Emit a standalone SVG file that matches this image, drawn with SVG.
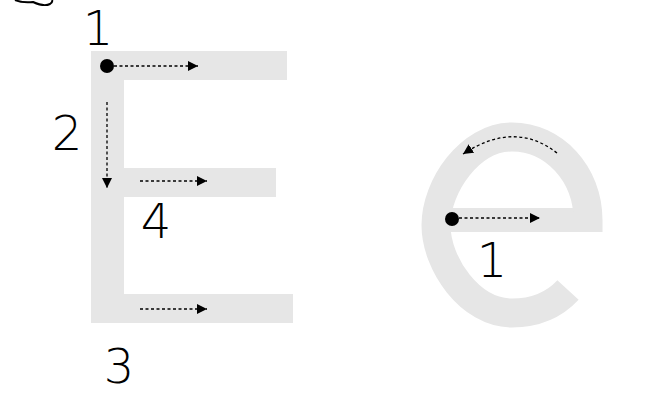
<svg xmlns="http://www.w3.org/2000/svg" width="650" height="410" viewBox="0 0 650 410">
<style>
.shape{fill:#e6e6e6}
.stroke{fill:none;stroke:#e6e6e6}
.num{font-family:"DejaVu Sans","Liberation Sans",sans-serif;font-weight:200;font-size:48px;fill:#000}
.dash{fill:none;stroke:#000;stroke-width:1.3;stroke-dasharray:3 2.5}
.dot{fill:#000}
</style>
<defs>
<marker id="ah" viewBox="0 0 10 10" refX="10" refY="5" markerWidth="10" markerHeight="10" markerUnits="userSpaceOnUse" orient="auto">
<path d="M0,0 L10,5 L0,10 Z" fill="#000"/>
</marker>
</defs>
<path d="M15 0 Q22 3 33 2 Q44 7 50 4 Q53 2 52 0" fill="none" stroke="#000" stroke-width="2"/>
<g id="letterE">
<path class="shape" d="M91 51 H287 V80 H124 V168 H276 V197 H124 V294 H293 V323 H91 Z"/>
</g>
<g id="letterLowerE">
<path class="stroke" d="M437 220 H588" stroke-width="24"/>
<path class="stroke" d="M588 232 V220 C588 174 554 137 512 137 C470 137 436 186 436 225 C436 264 470 313 512 313 C536 313 555 304 568 290" stroke-width="29"/>
</g>
<g id="labels">
<text class="num" x="98" y="45" text-anchor="middle">1</text>
<text class="num" x="67" y="150" text-anchor="middle">2</text>
<text class="num" x="156" y="238" text-anchor="middle">4</text>
<text class="num" x="119" y="383" text-anchor="middle">3</text>
<text class="num" x="492" y="277" text-anchor="middle">1</text>
</g>
<g id="connectors">
<path class="dash" d="M114 66 H198" marker-end="url(#ah)"/>
<path class="dash" d="M107 102 V188" marker-end="url(#ah)"/>
<path class="dash" d="M140 181 H207" marker-end="url(#ah)"/>
<path class="dash" d="M140 309 H207" marker-end="url(#ah)"/>
<path class="dash" d="M459 218 H540" marker-end="url(#ah)"/>
<path class="dash" d="M557 153 Q515 120 463 154" marker-end="url(#ah)"/>
</g>
<g id="dots">
<circle class="dot" cx="107" cy="66" r="7"/>
<circle class="dot" cx="452" cy="219" r="7"/>
</g>
</svg>
